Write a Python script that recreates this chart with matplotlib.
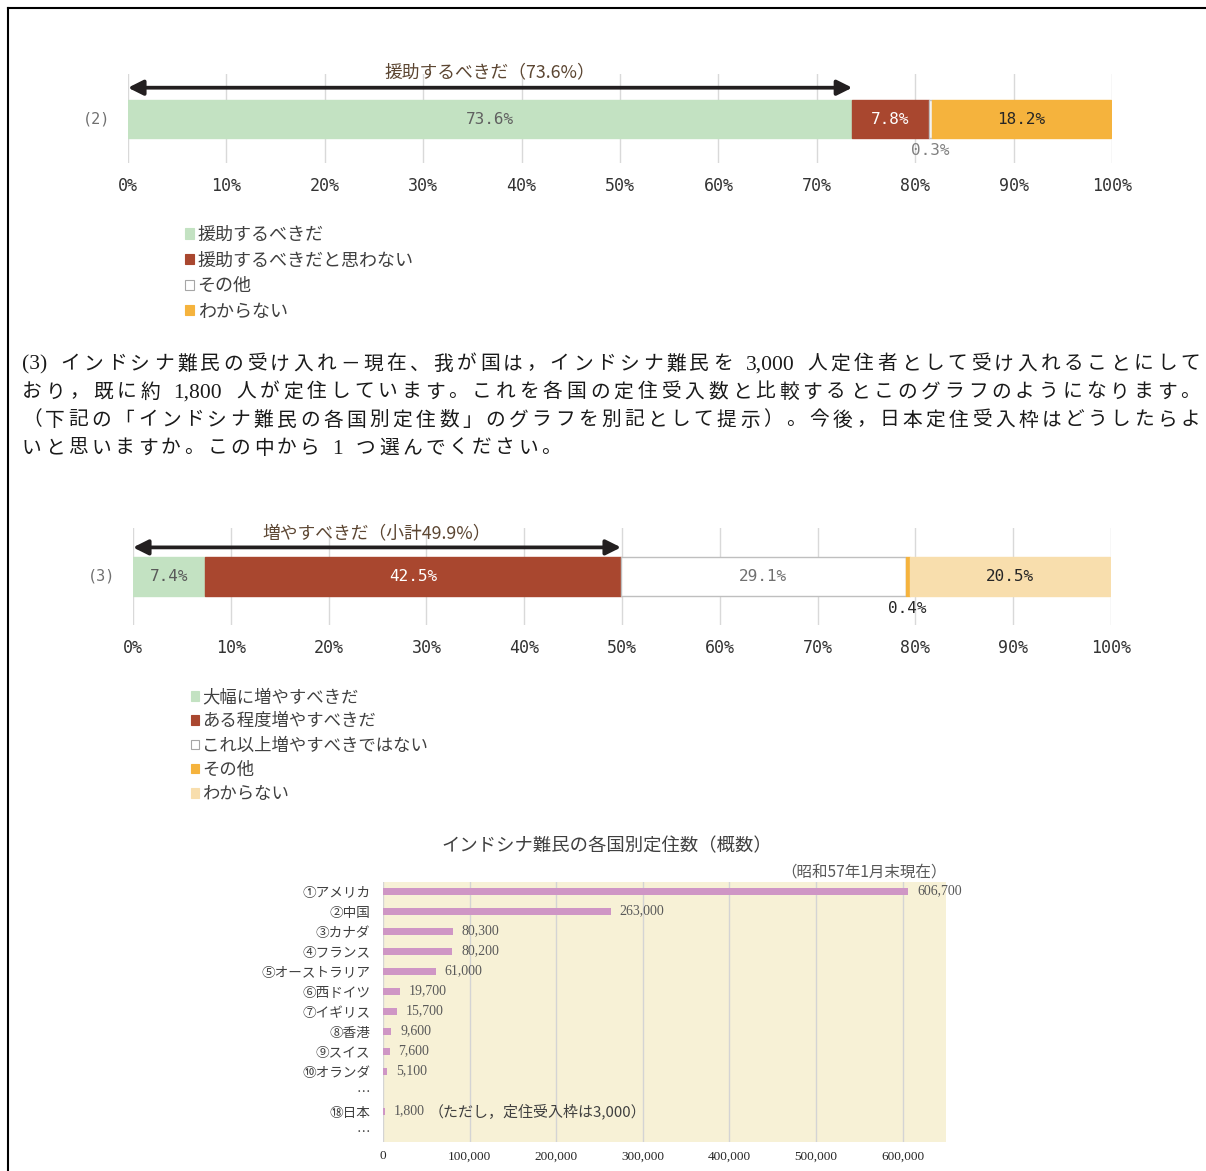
import re
import numpy as np
import matplotlib
matplotlib.use('Agg')
import matplotlib.pyplot as plt
from matplotlib.patches import Patch
from matplotlib.lines import Line2D
from matplotlib.ticker import FuncFormatter

plt.rcParams['font.family'] = ['Noto Sans CJK JP', 'DejaVu Sans']

# question (2)
q2_labels = ['援助するべきだ', '援助するべきだと思わない', 'その他', 'わからない']
q2_values = [73.6, 7.8, 0.3, 18.2]

# question (3)
q3_labels = ['大幅に増やすべきだ', 'ある程度増やすべきだ', 'これ以上増やすべきではない', 'その他', 'わからない']
q3_values = [7.4, 42.5, 29.1, 0.4, 20.5]

# settled refugees by country
countries = ['①アメリカ', '②中国', '③カナダ', '④フランス', '⑤オーストラリア', '⑥西ドイツ',
             '⑦イギリス', '⑧香港', '⑨スイス', '⑩オランダ', '…', '⑱日本', '…']
settled = [606700, 263000, 80300, 80200, 61000, 19700, 15700, 9600, 7600, 5100, np.nan, 1800, np.nan]

para_lines = [
    '(3) インドシナ難民の受け入れ－現在、我が国は，インドシナ難民を 3,000 人定住者として受け入れることにして',
    'おり，既に約 1,800 人が定住しています。これを各国の定住受入数と比較するとこのグラフのようになります。',
    '（下記の「インドシナ難民の各国別定住数」のグラフを別記として提示）。今後，日本定住受入枠はどうしたらよ',
    'いと思いますか。この中から 1 つ選んでください。',
]

W, H = 1206, 1171
fig = plt.figure(figsize=(W / 100, H / 100), dpi=100)


def box(left, top, right, bottom):
    return [left / W, 1 - bottom / H, (right - left) / W, (bottom - top) / H]


mono = 'DejaVu Sans Mono'


def stacked_bar(rect, values, colors, edges, txt_colors, row_label, bar_y, bar_h,
                arrow_n, arrow_y, note, note_y, small_y):
    ax = fig.add_axes(rect)
    left = np.concatenate([[0], np.cumsum(values)[:-1]])
    ax.barh(bar_y, values, left=left, height=bar_h, color=colors, edgecolor=edges, linewidth=1)
    for v, l, c in zip(values, left, txt_colors):
        yy = small_y if v < 1 else bar_y
        ax.text(l + v / 2, yy, f'{v:.1f}%', ha='center', va='center', family=mono,
                fontsize=11.5, color=c)
    total = sum(values[:arrow_n])
    ax.annotate('', xy=(0, arrow_y), xytext=(total, arrow_y),
                arrowprops=dict(arrowstyle='<|-|>,head_length=0.9,head_width=0.45',
                                lw=2.7, color='#231f20', mutation_scale=10,
                                shrinkA=0, shrinkB=0))
    ax.text(total / 2, note_y, note, ha='center', va='center', fontsize=12.8, color='#5c4632',
            clip_on=False)
    ax.text(-1.8, bar_y, row_label, ha='right', va='center', family=mono, fontsize=11,
            color='#707070')
    ax.set_xlim(0, 100)
    ax.set_ylim(0, 1)
    ax.set_xticks(range(0, 101, 10))
    ax.set_xticklabels([f'{t}%' for t in range(0, 101, 10)], family=mono, fontsize=12,
                       color='#333333')
    ax.set_yticks([])
    ax.tick_params(length=0, pad=10)
    ax.xaxis.grid(True, color='#D9D9D9', lw=1)
    ax.set_axisbelow(True)
    for s in ax.spines.values():
        s.set_visible(False)
    ax.patch.set_alpha(0)
    return ax


green, brown, orange, wheat = '#C3E2C2', '#A9472F', '#F5B33D', '#F8DEAD'

stacked_bar(box(128, 74, 1112, 163), q2_values,
            [green, brown, 'white', orange], [green, brown, '#BFBFBF', orange],
            ['#606060', 'white', '#808080', '#262626'], '(2)', 0.494, 0.427,
            1, 0.846, '援助するべきだ（73.6%）', 1.02, 0.146)

stacked_bar(box(133, 528, 1111, 625), q3_values,
            [green, brown, 'white', orange, wheat], [green, brown, '#BFBFBF', orange, wheat],
            ['#595959', 'white', '#707070', '#262626', '#262626'], '(3)', 0.505, 0.402,
            2, 0.80, '増やすべきだ（小計49.9%）', 0.948, 0.165)

# legends
h2 = [Patch(facecolor=c, edgecolor=e, lw=0.8) for c, e in
      zip([green, brown, 'white', orange], [green, brown, '#A6A6A6', orange])]
fig.legend(h2, q2_labels, loc='upper left', bbox_to_anchor=(185 / W, 1 - 226 / H),
           frameon=False, fontsize=13, handlelength=0.5, handleheight=0.5,
           handletextpad=0.2, labelspacing=0.42, borderpad=0, borderaxespad=0,
           labelcolor='#404040')

h3 = [Patch(facecolor=c, edgecolor=e, lw=0.8) for c, e in
      zip([green, brown, 'white', orange, wheat], [green, brown, '#A6A6A6', orange, wheat])]
fig.legend(h3, q3_labels, loc='upper left', bbox_to_anchor=(191 / W, 1 - 688 / H),
           frameon=False, fontsize=12.5, handlelength=0.46, handleheight=0.46,
           handletextpad=0.2, labelspacing=0.36, borderpad=0, borderaxespad=0,
           labelcolor='#404040')

# paragraph, justified token by token
renderer = fig.canvas.get_renderer()
para_y = [364, 392, 420, 448]
x0, x1 = 22, 1200
space_w = 6
extra = 0
for i, (line, y) in enumerate(zip(para_lines, para_y)):
    toks = re.findall(r'[!-~]+| |.', line)
    items = []
    for t in toks:
        if t == ' ':
            items.append((None, space_w))
        elif t.isascii():
            tx = fig.text(0, 1 - (y + 1) / H, t, fontsize=15.5, va='center', color='#1a1a1a',
                          family='Liberation Serif')
            items.append((tx, tx.get_window_extent(renderer).width))
        else:
            tx = fig.text(0, 1 - y / H, t, fontsize=14.2, va='center', color='#1a1a1a',
                          family='Noto Sans CJK JP')
            items.append((tx, tx.get_window_extent(renderer).width))
    if i < len(para_lines) - 1:
        extra = (x1 - x0 - sum(w for _, w in items)) / (len(items) - 1)
    x = x0
    for tx, w in items:
        if tx is not None:
            tx.set_x(x / W)
        x += w + extra

# settled refugees chart
ax3 = fig.add_axes(box(383, 882, 946, 1142))
ax3.set_facecolor('#F7F1D6')
rows = np.arange(len(countries))
vals = np.array(settled, dtype=float)
ok = ~np.isnan(vals)
ax3.barh(rows[ok], vals[ok], height=0.35, color='#CF96C5')
for r, v in zip(rows[ok], vals[ok]):
    ax3.annotate(f'{int(v):,}', xy=(v, r), xytext=(6.5, 0), textcoords='offset points',
                 va='center', ha='left', family='Liberation Serif', fontsize=10,
                 color='#595959')
jp = countries.index('⑱日本')
ax3.annotate('（ただし，定住受入枠は3,000）', xy=(settled[jp], jp), xytext=(32, 0),
             textcoords='offset points', va='center', ha='left', fontsize=10.8,
             color='#404040')
ax3.set_yticks(rows, countries, fontsize=9.8, color='#404040')
ax3.set_ylim(len(countries) - 0.45, -0.45)
ax3.set_xlim(0, 650000)
ax3.set_xticks(range(0, 600001, 100000))
ax3.xaxis.set_major_formatter(FuncFormatter(lambda v, p: f'{v:,.0f}'))
for lb in ax3.get_xticklabels():
    lb.set_family('Liberation Serif')
    lb.set_fontsize(9.5)
    lb.set_color('#262626')
ax3.tick_params(length=0)
ax3.tick_params(axis='y', pad=9)
ax3.tick_params(axis='x', pad=6)
ax3.xaxis.grid(True, color='#D4D4D4', lw=1)
ax3.set_axisbelow(True)
for s in ax3.spines.values():
    s.set_visible(False)

fig.text(607 / W, 1 - 846 / H, 'インドシナ難民の各国別定住数（概数）', ha='center', va='center',
         fontsize=13.2, color='#404040')
fig.text(947 / W, 1 - 872 / H, '（昭和57年1月末現在）', ha='right', va='center',
         fontsize=11.2, color='#595959')

# page frame
fig.add_artist(Line2D([8 / W, 8 / W], [0, 1 - 8 / H], color='black', lw=1.5))
fig.add_artist(Line2D([8 / W, 1], [1 - 8 / H, 1 - 8 / H], color='black', lw=1.5))

fig.savefig('out.png', dpi=100)
